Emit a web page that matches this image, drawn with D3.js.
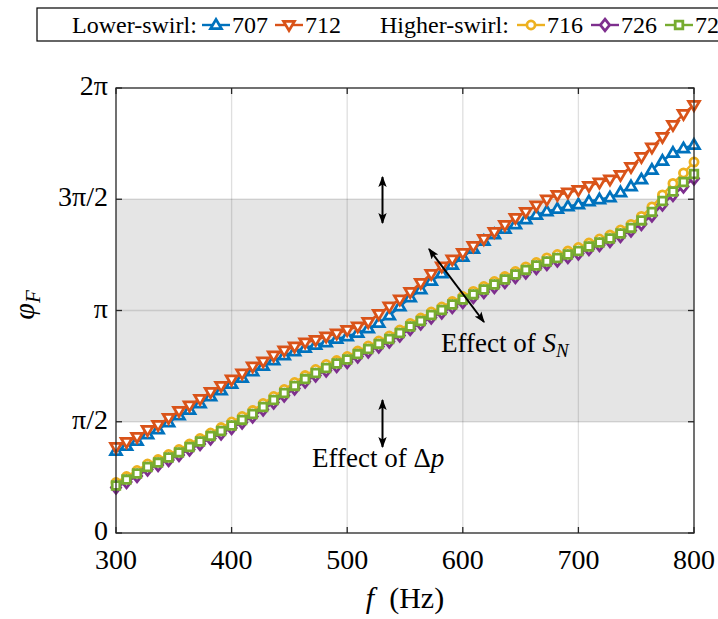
<!DOCTYPE html>
<html><head><meta charset="utf-8">
<script src="https://cdn.jsdelivr.net/npm/d3@7"></script>
<style>
body{margin:0;background:#fff;}
svg{display:block;}
text{font-family:"Liberation Serif","Times New Roman",serif;fill:#000;}
</style></head>
<body><svg id="c" width="718" height="619"></svg>
<script>
// frequencies (Hz)
const freq = [300,309.1,318.2,327.3,336.4,345.5,354.5,363.6,372.7,381.8,390.9,400,409.1,418.2,427.3,436.4,445.5,454.5,463.6,472.7,481.8,490.9,500,509.1,518.2,527.3,536.4,545.5,554.5,563.6,572.7,581.8,590.9,600,609.1,618.2,627.3,636.4,645.5,654.5,663.6,672.7,681.8,690.9,700,709.1,718.2,727.3,736.4,745.5,754.5,763.6,772.7,781.8,790.9,800];
// phase (rad)
const s707 = [1.158,1.228,1.299,1.391,1.461,1.560,1.659,1.737,1.829,1.927,2.012,2.104,2.189,2.280,2.358,2.436,2.506,2.563,2.612,2.655,2.690,2.739,2.775,2.824,2.888,2.965,3.071,3.198,3.325,3.438,3.558,3.664,3.784,3.897,4.010,4.123,4.215,4.292,4.356,4.427,4.490,4.540,4.575,4.610,4.638,4.681,4.709,4.737,4.808,4.893,4.991,5.126,5.253,5.366,5.429,5.479];
const s712 = [1.214,1.285,1.356,1.454,1.525,1.624,1.723,1.800,1.892,1.991,2.076,2.167,2.252,2.351,2.422,2.506,2.577,2.633,2.690,2.725,2.775,2.817,2.866,2.916,2.979,3.092,3.198,3.297,3.403,3.530,3.657,3.763,3.862,3.954,4.052,4.151,4.250,4.349,4.448,4.533,4.624,4.709,4.773,4.808,4.843,4.900,4.949,4.992,5.055,5.168,5.309,5.443,5.592,5.761,5.916,6.043];
const s716 = [0.713,0.797,0.882,0.974,1.037,1.108,1.179,1.256,1.334,1.412,1.489,1.567,1.645,1.729,1.828,1.927,2.026,2.125,2.223,2.308,2.379,2.435,2.492,2.569,2.640,2.711,2.781,2.866,2.958,3.035,3.120,3.191,3.268,3.339,3.410,3.480,3.551,3.621,3.692,3.756,3.819,3.883,3.932,3.981,4.031,4.094,4.151,4.207,4.278,4.356,4.469,4.604,4.773,4.935,5.083,5.238];
const s726 = [0.643,0.720,0.805,0.897,0.960,1.031,1.102,1.179,1.257,1.335,1.405,1.483,1.561,1.645,1.744,1.843,1.942,2.041,2.139,2.224,2.295,2.358,2.415,2.492,2.563,2.634,2.704,2.789,2.881,2.958,3.043,3.114,3.191,3.262,3.333,3.403,3.474,3.544,3.615,3.679,3.742,3.799,3.848,3.897,3.947,4.010,4.067,4.123,4.194,4.272,4.364,4.484,4.639,4.773,4.892,5.005];
const s727 = [0.671,0.755,0.840,0.932,0.995,1.066,1.137,1.214,1.292,1.370,1.440,1.518,1.596,1.680,1.779,1.878,1.977,2.076,2.174,2.259,2.330,2.393,2.450,2.527,2.598,2.669,2.739,2.824,2.916,2.993,3.078,3.149,3.226,3.297,3.368,3.438,3.509,3.579,3.650,3.714,3.777,3.834,3.883,3.932,3.982,4.045,4.102,4.158,4.229,4.307,4.413,4.533,4.688,4.822,4.956,5.069];
const xTicks = [300,400,500,600,700,800];
const yTickLabels = ["0","π/2","π","3π/2","2π"];
const yTicks = [0, Math.PI/2, Math.PI, 3*Math.PI/2, 2*Math.PI];
const seriesNames = ["707","712","716","726","727"];

const L = 116, R = 694, T = 88, B = 533;
const svg = d3.select("#c");
const x = d3.scaleLinear().domain([300,800]).range([L,R]);
const y = d3.scaleLinear().domain([0,2*Math.PI]).range([B,T]);

const colors = {"707":"#0072BD","712":"#D95319","716":"#EDB120","726":"#7E2F8E","727":"#77AC30"};
const shapes = {"707":"up","712":"down","716":"circle","726":"diamond","727":"square"};
const data = {"707":s707,"712":s712,"716":s716,"726":s726,"727":s727};

function markerPath(shape){
  switch(shape){
    case "up": return "M0,-5.6L5.4,3.6L-5.4,3.6Z";
    case "down": return "M0,5.6L5.4,-3.6L-5.4,-3.6Z";
    case "circle": return d3.symbol(d3.symbolCircle, 52)();
    case "diamond": return "M0,-5.8L4.6,0L0,5.8L-4.6,0Z";
    case "square": return "M-3.8,-3.8L3.8,-3.8L3.8,3.8L-3.8,3.8Z";
  }
}

// shaded band
svg.append("rect").attr("x",L).attr("y",y(3*Math.PI/2)).attr("width",R-L)
  .attr("height",y(Math.PI/2)-y(3*Math.PI/2)).attr("fill","#e5e5e5");

// grid
const grid = svg.append("g").attr("stroke","rgba(38,38,38,0.15)").attr("stroke-width",1.3);
xTicks.slice(1,-1).forEach(t=>grid.append("line").attr("x1",x(t)).attr("x2",x(t)).attr("y1",T).attr("y2",B));
yTicks.slice(1,-1).forEach(t=>grid.append("line").attr("x1",L).attr("x2",R).attr("y1",y(t)).attr("y2",y(t)));

// series
const line = d3.line().x((d,i)=>x(freq[i])).y(d=>y(d));
seriesNames.forEach(n=>{
  const g = svg.append("g");
  g.append("path").datum(data[n]).attr("d",line).attr("fill","none")
    .attr("stroke",colors[n]).attr("stroke-width",2.4).attr("stroke-linejoin","round");
  g.selectAll("path.m").data(data[n]).join("path").attr("class","m")
    .attr("d",markerPath(shapes[n]))
    .attr("transform",(d,i)=>`translate(${x(freq[i])},${y(d)})`)
    .attr("fill","#fff").attr("stroke",colors[n]).attr("stroke-width",2.8)
    .attr("stroke-linejoin","miter");
});

// axes frame and ticks
const ax = svg.append("g").attr("stroke","#262626").attr("stroke-width",1.3).attr("fill","none");
ax.append("rect").attr("x",L).attr("y",T).attr("width",R-L).attr("height",B-T);
xTicks.forEach(t=>{
  ax.append("line").attr("x1",x(t)).attr("x2",x(t)).attr("y1",B).attr("y2",B-6);
  ax.append("line").attr("x1",x(t)).attr("x2",x(t)).attr("y1",T).attr("y2",T+6);
});
yTicks.forEach(t=>{
  ax.append("line").attr("x1",L).attr("x2",L+6).attr("y1",y(t)).attr("y2",y(t));
  ax.append("line").attr("x1",R).attr("x2",R-6).attr("y1",y(t)).attr("y2",y(t));
});

// tick labels
xTicks.forEach(t=>{
  svg.append("text").attr("x",x(t)).attr("y",569).attr("text-anchor","middle")
    .attr("font-size",28).text(t);
});
yTicks.forEach((t,i)=>{
  svg.append("text").attr("x",108).attr("y",y(t)+7).attr("text-anchor","end")
    .attr("font-size",28).text(yTickLabels[i]);
});

// axis labels
const xl = svg.append("text").attr("x",405).attr("y",608).attr("text-anchor","middle").attr("font-size",30);
xl.append("tspan").attr("font-style","italic").text("f");
xl.append("tspan").text("\u2002(Hz)");
const yl = svg.append("text").attr("transform","translate(34,305) rotate(-90)").attr("text-anchor","middle").attr("font-size",30);
yl.append("tspan").attr("font-style","italic").text("φ");
yl.append("tspan").attr("font-style","italic").attr("font-size",21).attr("dy",6).text("F");

// arrows
const defs = svg.append("defs");
defs.append("marker").attr("id","ah").attr("viewBox","0 0 10 10").attr("refX",9).attr("refY",5)
  .attr("markerWidth",11).attr("markerHeight",11).attr("markerUnits","userSpaceOnUse")
  .attr("orient","auto-start-reverse")
  .append("path").attr("d","M0,1.2L10,5L0,8.8L2.2,5Z").attr("fill","#000");
function arrow(x1,y1,x2,y2){
  svg.append("line").attr("x1",x1).attr("y1",y1).attr("x2",x2).attr("y2",y2)
    .attr("stroke","#000").attr("stroke-width",2)
    .attr("marker-start","url(#ah)").attr("marker-end","url(#ah)");
}
arrow(382.5,177,382.5,223);
arrow(382.5,400,382.5,447);
arrow(429,249,484,322);

// annotations
const a1 = svg.append("text").attr("x",441).attr("y",352).attr("font-size",27);
a1.append("tspan").text("Effect of ");
a1.append("tspan").attr("font-style","italic").text("S");
a1.append("tspan").attr("font-style","italic").attr("font-size",19).attr("dy",5).text("N");
const a2 = svg.append("text").attr("x",312).attr("y",467).attr("font-size",27);
a2.append("tspan").text("Effect of Δ");
a2.append("tspan").attr("font-style","italic").text("p");

// legend
svg.append("rect").attr("x",37).attr("y",8).attr("width",700).attr("height",33)
  .attr("fill","#fff").attr("stroke","#000").attr("stroke-width",1.2);
const lgY = 25;
svg.append("text").attr("x",72).attr("y",lgY+8).attr("font-size",24).text("Lower-swirl:");
svg.append("text").attr("x",380).attr("y",lgY+8).attr("font-size",24).text("Higher-swirl:");
const legendX = {"707":216,"712":289,"716":531,"726":605,"727":679};
seriesNames.forEach(n=>{
  const cx = legendX[n];
  svg.append("line").attr("x1",cx-14).attr("x2",cx+14).attr("y1",lgY).attr("y2",lgY)
    .attr("stroke",colors[n]).attr("stroke-width",2.4);
  svg.append("path").attr("d",markerPath(shapes[n])).attr("transform",`translate(${cx},${lgY})`)
    .attr("fill","#fff").attr("stroke",colors[n]).attr("stroke-width",2.8);
  svg.append("text").attr("x",cx+16).attr("y",lgY+8).attr("font-size",24).text(n);
});
</script></body></html>
